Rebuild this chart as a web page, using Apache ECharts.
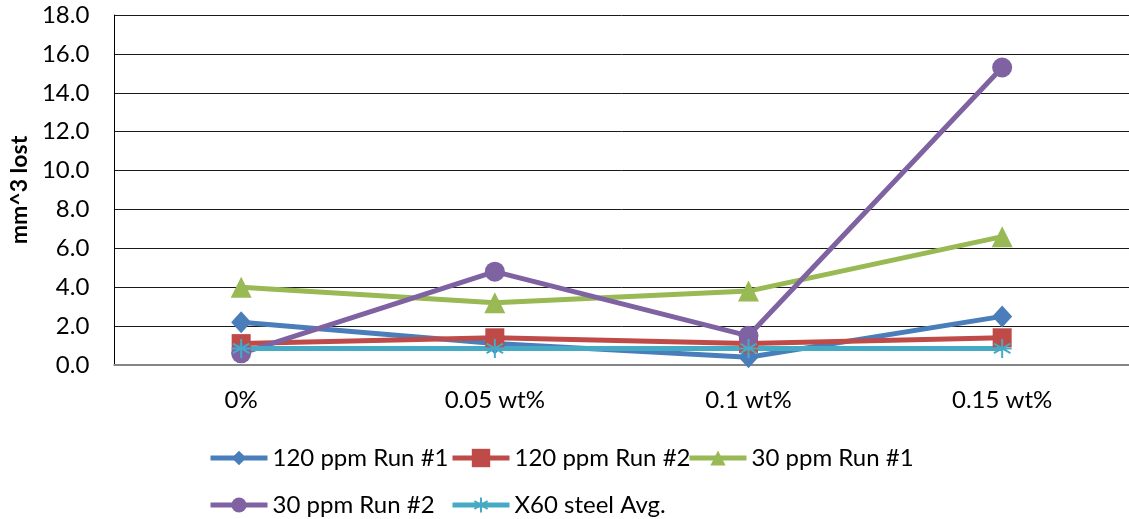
<!DOCTYPE html>
<html>
<head>
<meta charset="utf-8">
<script src="https://cdn.jsdelivr.net/npm/echarts@6/dist/echarts.min.js"></script>
<style>
  html, body { margin: 0; padding: 0; background: #fff; }
  #chart { width: 1129px; height: 519px; }
</style>
</head>
<body>
<div id="chart"></div>
<script>
// Wear volume lost per additive concentration
const categories = ['0%', '0.05 wt%', '0.1 wt%', '0.15 wt%'];
const run120_1 = [2.2, 1.1, 0.4, 2.5];
const run120_2 = [1.1, 1.4, 1.1, 1.4];
const run30_1 = [4.0, 3.2, 3.8, 6.6];
const run30_2 = [0.6, 4.8, 1.5, 15.3];
const x60Avg = [0.85, 0.85, 0.85, 0.85];
const seriesNames = ['120 ppm Run #1', '120 ppm Run #2', '30 ppm Run #1', '30 ppm Run #2', 'X60 steel Avg.'];

const FONT = 'Lato';
const asterisk = 'path://M0,-10L0,10M-8.7,-5L8.7,5M-8.7,5L8.7,-5M-10,0L10,0';

function lineSeries(name, data, color, symbol, size, extra) {
  return Object.assign({
    name: name,
    type: 'line',
    data: data,
    symbol: symbol,
    symbolSize: size,
    showAllSymbol: true,
    lineStyle: { color: color, width: 5 },
    itemStyle: { color: color },
    emphasis: { disabled: true },
    z: 2
  }, extra || {});
}

// one legend block per entry, laid out in two rows
function legendItem(name, left, top, h) {
  return {
    data: [name],
    left: left, top: top,
    itemWidth: 57, itemHeight: h, itemGap: 0,
    lineStyle: { width: 5 },
    textStyle: { fontFamily: FONT, fontSize: 24, color: '#000' }
  };
}

const chart = echarts.init(document.getElementById('chart'));
chart.setOption({
  animation: false,
  textStyle: { fontFamily: FONT },
  grid: { left: 113, right: -4, top: 15, bottom: 154, containLabel: false },
  legend: [
    legendItem(seriesNames[0], 203, 441, 18),
    legendItem(seriesNames[1], 445, 441, 23),
    legendItem(seriesNames[2], 682, 441, 19),
    legendItem(seriesNames[3], 203, 488, 19),
    legendItem(seriesNames[4], 445, 488, 19)
  ],
  xAxis: {
    type: 'category',
    data: categories,
    boundaryGap: true,
    axisLine: { lineStyle: { color: '#868686', width: 2 } },
    axisTick: { show: false },
    axisLabel: { fontFamily: FONT, fontSize: 24, color: '#000', margin: 23 },
    splitLine: { show: false }
  },
  yAxis: {
    type: 'value',
    min: 0, max: 18, interval: 2,
    name: 'mm^3 lost',
    nameLocation: 'middle',
    nameGap: 83,
    nameTextStyle: { fontFamily: FONT, fontSize: 23, fontWeight: 'bold', color: '#000' },
    axisLine: { show: true, lineStyle: { color: '#000', width: 1 } },
    axisTick: { show: false },
    axisLabel: {
      fontFamily: FONT, fontSize: 24, color: '#000', margin: 25,
      formatter: v => v.toFixed(1)
    },
    splitLine: { lineStyle: { color: '#1a1a1a', width: 1 } }
  },
  series: [
    lineSeries(seriesNames[0], run120_1, '#4A7EBB', 'diamond', [20, 22]),
    lineSeries(seriesNames[1], run120_2, '#BE4B48', 'rect', 19),
    lineSeries(seriesNames[2], run30_1, '#98B954', 'triangle', 21),
    lineSeries(seriesNames[3], run30_2, '#7F62A2', 'circle', 20),
    lineSeries(seriesNames[4], x60Avg, '#46AAC5', asterisk, 19, {
      itemStyle: { color: '#46AAC5', borderColor: '#46AAC5', borderWidth: 2 }
    })
  ]
});
</script>
</body>
</html>
